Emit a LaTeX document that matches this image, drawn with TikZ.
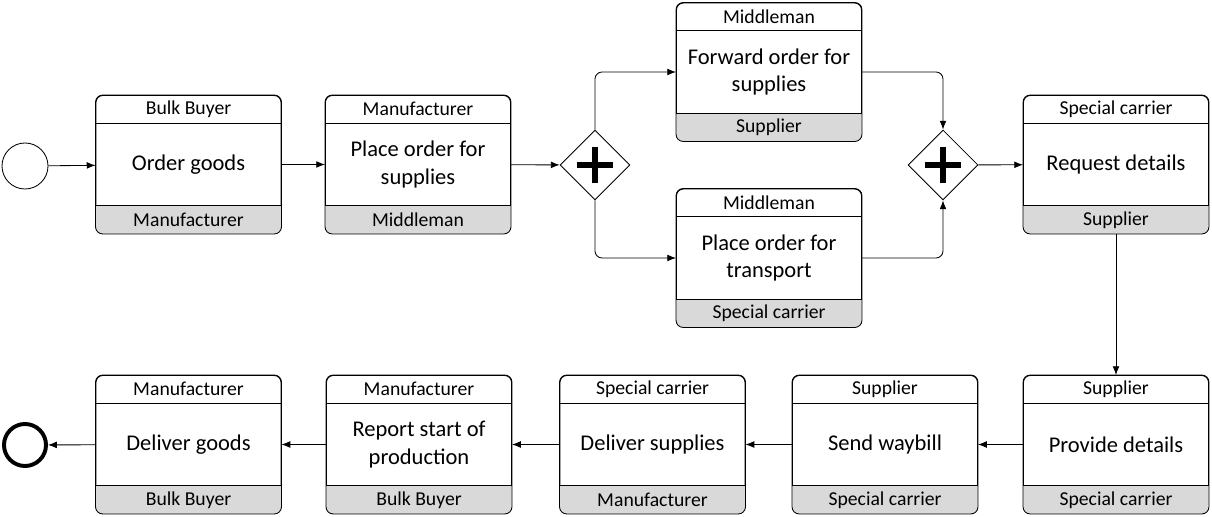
\documentclass[tikz,border=0pt]{standalone}
\usepackage{fontspec}
\setmainfont{Carlito}
\usepackage{tikz}
\definecolor{laneGray}{RGB}{217, 217, 217}
\usetikzlibrary{arrows.meta, positioning, calc, shapes.geometric}

% header and footer of an activity box: node, top role, bottom role
\newcommand{\roles}[3]{%
    \begin{scope}
        \clip ($(#1.south west)+(-2pt,0.69cm)$) rectangle ($(#1.south east)+(2pt,-2pt)$);
        \fill[laneGray, rounded corners=5pt] (#1.south west) rectangle (#1.north east);
    \end{scope}
    \draw[thin line, rounded corners=5pt] (#1.south west) rectangle (#1.north east);
    \node[role, anchor=north] (#1-top) at (#1.north) {#2};
    \node[role, anchor=south] (#1-bot) at (#1.south) {#3};
    \draw[thin line] (#1-top.south west) -- (#1-top.south east);
    \draw[thin line] (#1-bot.north west) -- (#1-bot.north east);
}

\begin{document}
\begin{tikzpicture}[
    x=0.025cm, y=-0.025cm,
    thin line/.style={line width=0.6pt},
    activity/.style={rectangle, draw, thin line, rounded corners=5pt, minimum width=4.625cm, minimum height=3.45cm, align=center, inner sep=2pt, font=\fontsize{16}{19.5}\selectfont},
    role/.style={rectangle, minimum width=4.625cm, minimum height=0.69cm, inner sep=0pt, font=\fontsize{14}{16}\selectfont},
    gateway/.style={diamond, draw, thin line, minimum width=1.75cm, minimum height=1.75cm, inner sep=0pt,
        path picture={\draw[line width=3.8pt] ($(path picture bounding box.center)+(-0.46cm,0)$) -- ($(path picture bounding box.center)+(0.46cm,0)$);
                      \draw[line width=3.8pt] ($(path picture bounding box.center)+(0,-0.46cm)$) -- ($(path picture bounding box.center)+(0,0.46cm)$);}},
    flow/.style={thin line, -{Latex[length=2.2mm, width=1.7mm]}, rounded corners=5pt}
]
    \useasboundingbox (0,0) rectangle (1212,517);

    % events and gateways
    \node[circle, draw, thin line, minimum size=1.15cm, inner sep=0pt] (start) at (25,166) {};
    \node[circle, draw, line width=2.8pt, minimum size=1.05cm, inner sep=0pt] (end) at (25,445) {};
    \node[gateway] (split) at (595,165) {};
    \node[gateway] (join) at (943,165) {};

    % activities
    \node[activity] (order) at (188.5,164.5) {Order goods};
    \node[activity] (place) at (418,164.5) {Place order for\\supplies};
    \node[activity] (forward) at (769,72) {Forward order for\\supplies};
    \node[activity] (transport) at (769,258) {Place order for\\transport};
    \node[activity] (request) at (1116,164.5) {Request details};
    \node[activity] (provide) at (1116,444.5) {Provide details};
    \node[activity] (waybill) at (885,444.5) {Send waybill};
    \node[activity] (deliversup) at (652.5,444.5) {Deliver supplies};
    \node[activity] (report) at (419,444.5) {Report start of\\production};
    \node[activity] (delivergoods) at (188.5,444.5) {Deliver goods};

    \roles{order}{Bulk Buyer}{Manufacturer}
    \roles{place}{Manufacturer}{Middleman}
    \roles{forward}{Middleman}{Supplier}
    \roles{transport}{Middleman}{Special carrier}
    \roles{request}{Special carrier}{Supplier}
    \roles{provide}{Supplier}{Special carrier}
    \roles{waybill}{Supplier}{Special carrier}
    \roles{deliversup}{Special carrier}{Manufacturer}
    \roles{report}{Manufacturer}{Bulk Buyer}
    \roles{delivergoods}{Manufacturer}{Bulk Buyer}

    % sequence flows
    \draw[flow] (start) -- (order);
    \draw[flow] (order) -- (place);
    \draw[flow] (place) -- (split);
    \draw[flow] (split.north) |- (forward.west);
    \draw[flow] (split.south) |- (transport.west);
    \draw[flow] (forward.east) -| (join.north);
    \draw[flow] (transport.east) -| (join.south);
    \draw[flow] (join) -- (request);
    \draw[flow] (request) -- (provide);
    \draw[flow] (provide) -- (waybill);
    \draw[flow] (waybill) -- (deliversup);
    \draw[flow] (deliversup) -- (report);
    \draw[flow] (report) -- (delivergoods);
    \draw[flow] (delivergoods) -- (end);
\end{tikzpicture}
\end{document}
